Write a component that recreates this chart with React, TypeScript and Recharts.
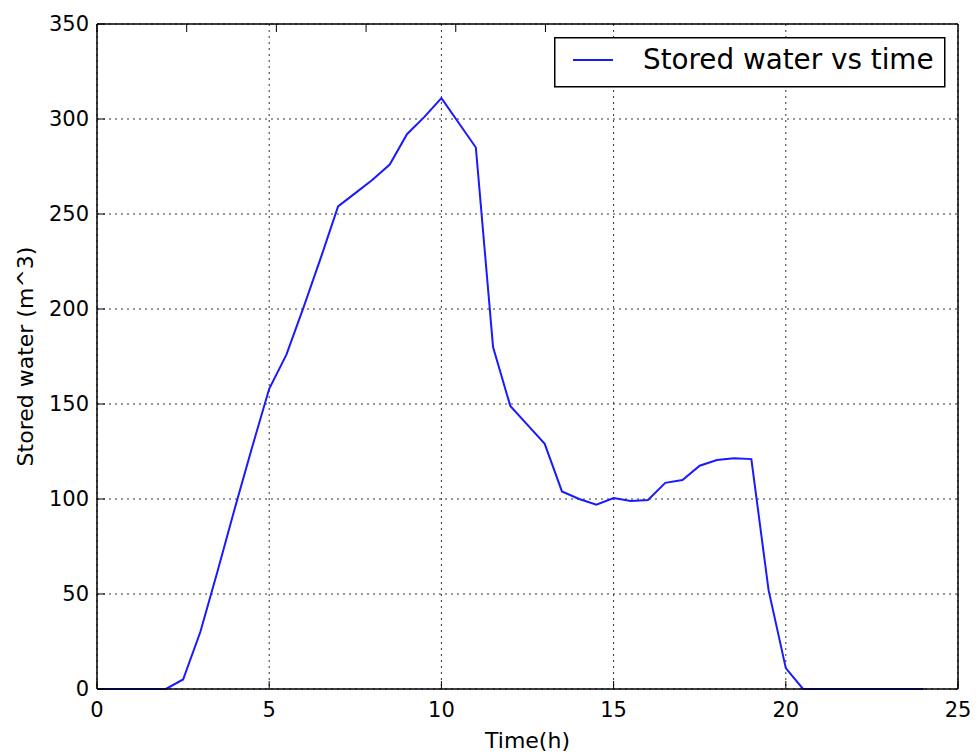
import { LineChart, Line, XAxis, YAxis, CartesianGrid } from 'recharts'

// time in hours, sampled every half hour
const hours = [
  0, 0.5, 1, 1.5, 2, 2.5, 3, 3.5, 4, 4.5, 5, 5.5, 6, 6.5, 7, 7.5, 8, 8.5, 9, 9.5,
  10, 10.5, 11, 11.5, 12, 12.5, 13, 13.5, 14, 14.5, 15, 15.5, 16, 16.5, 17, 17.5,
  18, 18.5, 19, 19.5, 20, 20.5, 21, 21.5, 22, 22.5, 23, 23.5, 24,
]

// stored water volume in m^3
const storedWater = [
  0, 0, 0, 0, 0, 5, 30, 62, 95, 127, 158, 176, 201, 227, 254, 261, 268, 276, 292, 301,
  311, 298, 285, 180, 149, 139, 129, 104, 100, 97, 100.5, 99, 99.5, 108.5, 110, 117.5,
  120.5, 121.5, 121, 52, 11, 0, 0, 0, 0, 0, 0, 0, 0,
]

const xTicks = [0, 5, 10, 15, 20, 25]
const yTicks = [0, 50, 100, 150, 200, 250, 300, 350]
const seriesName = 'Stored water vs time'

const data = hours.map((h, i) => ({ time: h, stored: storedWater[i] }))

const FONT = '"DejaVu Sans", "Bitstream Vera Sans", sans-serif'
const LINE_COLOR = '#1a1aff'
const tickStyle = { fill: '#000', fontSize: 21, fontFamily: FONT }
const frame = { stroke: '#000', strokeWidth: 1.5 }
const tickMark = { stroke: '#000', strokeWidth: 1 }
const noLabel = () => <g />

function LegendBox() {
  return (
    <svg
      width={392}
      height={51}
      style={{ position: 'absolute', left: 554, top: 37 }}
    >
      <rect x={0.75} y={0.75} width={390} height={49} fill="#fff" stroke="#000" strokeWidth={1.5} />
      <line x1={19} y1={23} x2={59} y2={23} stroke={LINE_COLOR} strokeWidth={2} />
      <text x={89} y={32} fontSize={27.8} fontFamily={FONT} fill="#000">
        {seriesName}
      </text>
    </svg>
  )
}

export default function StoredWaterChart() {
  return (
    <div style={{ position: 'absolute', left: 0, top: 0, width: 979, height: 755, background: '#fff' }}>
      <LineChart
        width={979}
        height={755}
        data={data}
        margin={{ top: 4, right: 0, left: 0, bottom: 0 }}
      >
        <CartesianGrid stroke="#333" strokeWidth={1} strokeDasharray="2 4" />
        <XAxis
          dataKey="time"
          type="number"
          domain={[0, 25]}
          ticks={xTicks}
          height={66}
          axisLine={frame}
          tickLine={tickMark}
          tickSize={-8}
          tickMargin={21}
          tick={tickStyle}
          label={{
            value: 'Time(h)',
            position: 'insideBottom',
            offset: 7,
            style: { fontSize: 22, fontFamily: FONT, fill: '#000' },
          }}
        />
        <XAxis
          xAxisId="top"
          orientation="top"
          type="number"
          domain={[0, 25]}
          ticks={xTicks}
          height={20}
          axisLine={frame}
          tickLine={tickMark}
          tickSize={-8}
          tick={noLabel}
        />
        <YAxis
          type="number"
          domain={[0, 350]}
          ticks={yTicks}
          width={97}
          axisLine={frame}
          tickLine={tickMark}
          tickSize={-8}
          tickMargin={16}
          tick={tickStyle}
          label={{
            value: 'Stored water (m^3)',
            angle: -90,
            position: 'insideLeft',
            offset: 25,
            style: { textAnchor: 'middle', fontSize: 22, fontFamily: FONT, fill: '#000' },
          }}
        />
        <YAxis
          yAxisId="right"
          orientation="right"
          type="number"
          domain={[0, 350]}
          ticks={yTicks}
          width={21}
          axisLine={frame}
          tickLine={tickMark}
          tickSize={-8}
          tick={noLabel}
        />
        <Line
          type="linear"
          dataKey="stored"
          name={seriesName}
          stroke={LINE_COLOR}
          strokeWidth={2}
          dot={false}
          activeDot={false}
          isAnimationActive={false}
        />
      </LineChart>
      <LegendBox />
    </div>
  )
}
